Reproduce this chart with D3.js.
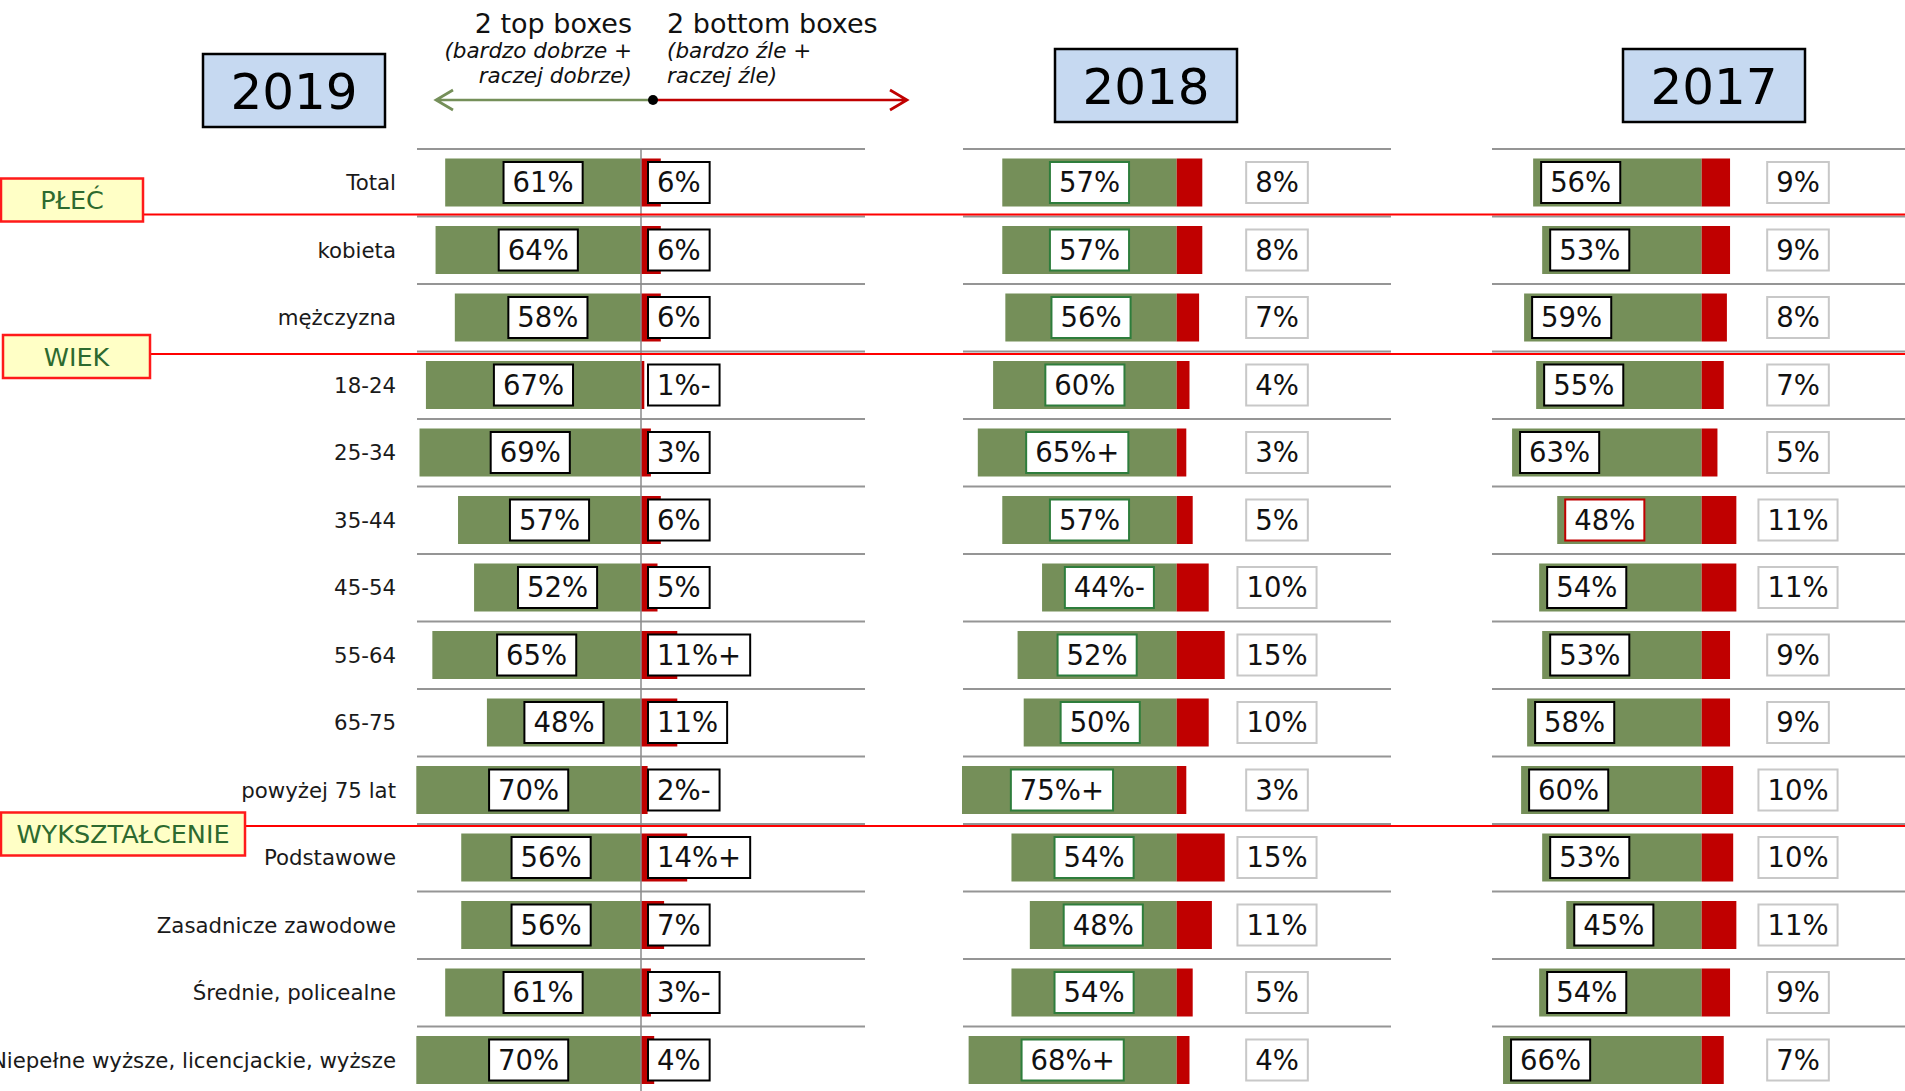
<!DOCTYPE html>
<html lang="pl"><head>
<meta charset="utf-8">
<script src="https://cdn.jsdelivr.net/npm/d3@7"></script>
<style>
  body { margin: 0; background: #fff; }
  svg { display: block; font-family: "DejaVu Sans", Verdana, sans-serif; }
</style>
</head>
<body>
<svg id="chart" width="1905" height="1091"></svg>
<script>
// --- data ---
const rows = ["Total", "kobieta", "mężczyzna", "18-24", "25-34", "35-44", "45-54", "55-64",
  "65-75", "powyżej 75 lat", "Podstawowe", "Zasadnicze zawodowe", "Średnie, policealne",
  "Niepełne wyższe, licencjackie, wyższe"]

const years = ["2019", "2018", "2017"]

const top2019 = [61, 64, 58, 67, 69, 57, 52, 65, 48, 70, 56, 56, 61, 70]
const topMark2019 = ["", "", "", "", "", "", "", "", "", "", "", "", "", ""]
const bottom2019 = [6, 6, 6, 1, 3, 6, 5, 11, 11, 2, 14, 7, 3, 4]
const bottomMark2019 = ["", "", "", "-", "", "", "", "+", "", "-", "+", "", "-", ""]

const top2018 = [57, 57, 56, 60, 65, 57, 44, 52, 50, 75, 54, 48, 54, 68]
const topMark2018 = ["", "", "", "", "+", "", "-", "", "", "+", "", "", "", "+"]
const bottom2018 = [8, 8, 7, 4, 3, 5, 10, 15, 10, 3, 15, 11, 5, 4]
const bottomMark2018 = ["", "", "", "", "", "", "", "", "", "", "", "", "", ""]

const top2017 = [56, 53, 59, 55, 63, 48, 54, 53, 58, 60, 53, 45, 54, 66]
const topMark2017 = ["", "", "", "", "", "", "", "", "", "", "", "", "", ""]
const bottom2017 = [9, 9, 8, 7, 5, 11, 11, 9, 9, 10, 10, 11, 9, 7]
const bottomMark2017 = ["", "", "", "", "", "", "", "", "", "", "", "", "", ""]
const flagged2017 = ["35-44"]

const groups = ["PŁEĆ", "WIEK", "WYKSZTAŁCENIE"]
const groupAfter = ["Total", "mężczyzna", "powyżej 75 lat"]

// --- layout ---
const green = "#758f59", red = "#c00000"
const svg = d3.select("#chart")

const y = d3.scaleBand().domain(rows).range([149, 149 + rows.length * 67.5])
const barH = 48, barOff = 9.5

const panels = [
  {year: years[0], top: top2019, topMark: topMark2019, bot: bottom2019, botMark: bottomMark2019,
   axis: 641, kTop: 3.21, kBot: 3.3, left: 417, right: 865, head: [203, 54],
   topBorder: "#000", botBorder: "#000", topPos: "center", botPos: "axis", axisLine: true},
  {year: years[1], top: top2018, topMark: topMark2018, bot: bottom2018, botMark: bottomMark2018,
   axis: 1176.7, kTop: 3.06, kBot: 3.2, left: 963, right: 1391, head: [1055, 49],
   topBorder: "#2e7d3c", botBorder: "#c8c8c8", topPos: "center", botPos: 1277},
  {year: years[2], top: top2017, topMark: topMark2017, bot: bottom2017, botMark: bottomMark2017,
   axis: 1701.7, kTop: 3.01, kBot: 3.15, left: 1492, right: 1905, head: [1623, 49],
   topBorder: "#000", botBorder: "#c8c8c8", topPos: "start", botPos: 1798, flagged: flagged2017}
]

function labelBox(parent, txt, x, cy, pos, stroke) {
  const b = parent.append("g")
  const t = b.append("text").text(txt)
    .attr("font-size", 27.5).attr("fill", "#111")
    .attr("y", cy).attr("dy", "0.36em")
  const w = t.node().getComputedTextLength() + 18
  const left = pos == "middle" ? x - w / 2 : x
  t.attr("x", left + 9)
  b.insert("rect", "text")
    .attr("x", left).attr("y", cy - 20.5)
    .attr("width", w).attr("height", 41)
    .attr("fill", "#fff").attr("stroke", stroke).attr("stroke-width", 2)
}

function drawPanel(p, k) {
  const g = svg.append("g")
  const xTop = d3.scaleLinear().domain([0, 100]).range([p.axis, p.axis - 100 * p.kTop])
  const xBot = d3.scaleLinear().domain([0, 100]).range([p.axis, p.axis + 100 * p.kBot])

  g.selectAll("line.sep").data(rows).join("line")
    .attr("class", "sep")
    .attr("x1", p.left).attr("x2", p.right)
    .attr("y1", d => y(d)).attr("y2", d => y(d))
    .attr("stroke", "#959595").attr("stroke-width", 2)

  // header
  g.append("rect")
    .attr("x", p.head[0]).attr("y", p.head[1]).attr("width", 182).attr("height", 73)
    .attr("fill", "#c6d9f1").attr("stroke", "#000").attr("stroke-width", 2.5)
  g.append("text").text(p.year)
    .attr("x", p.head[0] + 91).attr("y", p.head[1] + 36.5).attr("dy", "0.36em")
    .attr("text-anchor", "middle").attr("font-size", 50).attr("fill", "#000")

  svg.append("clipPath").attr("id", "clip" + k)
    .append("rect").attr("x", p.left - 1).attr("y", 0).attr("width", 1905).attr("height", 1091)

  const bars = g.append("g").attr("clip-path", `url(#clip${k})`)
  bars.selectAll("rect.top").data(rows).join("rect")
    .attr("class", "top")
    .attr("x", (d, i) => xTop(p.top[i]))
    .attr("width", (d, i) => p.axis - xTop(p.top[i]))
    .attr("y", d => y(d) + barOff).attr("height", barH)
    .attr("fill", green)
  bars.selectAll("rect.bot").data(rows).join("rect")
    .attr("class", "bot")
    .attr("x", p.axis)
    .attr("width", (d, i) => xBot(p.bot[i]) - p.axis)
    .attr("y", d => y(d) + barOff).attr("height", barH)
    .attr("fill", red)

  if (p.axisLine) {
    g.append("line")
      .attr("x1", p.axis).attr("x2", p.axis).attr("y1", 149).attr("y2", 1091)
      .attr("stroke", "#8a8a8a").attr("stroke-width", 1.5)
  }

  rows.forEach((r, i) => {
    const cy = y(r) + barOff + barH / 2
    const x0 = xTop(p.top[i])
    const flag = p.flagged && p.flagged.indexOf(r) != -1
    if (p.topPos == "center") {
      labelBox(g, p.top[i] + "%" + p.topMark[i], (x0 + p.axis) / 2, cy, "middle", p.topBorder)
    } else {
      labelBox(g, p.top[i] + "%" + p.topMark[i], x0 + 8, cy, "start", flag ? red : p.topBorder)
    }
    const bt = p.bot[i] + "%" + p.botMark[i]
    if (p.botPos == "axis") {
      labelBox(g, bt, p.axis + 7, cy, "start", p.botBorder)
    } else {
      labelBox(g, bt, p.botPos, cy, "middle", p.botBorder)
    }
  })
}

panels.forEach((p, k) => drawPanel(p, k))

// row labels
svg.append("g").selectAll("text").data(rows).join("text")
  .text(d => d)
  .attr("x", 396).attr("y", d => y(d) + barOff + barH / 2).attr("dy", "0.36em")
  .attr("text-anchor", "end").attr("font-size", 21.3).attr("fill", "#1a1a1a")

// group markers
const groupBox = [
  {w: 144, dy: -38, x: 0, lineDy: -2},
  {w: 149, dy: -16.5, x: 2, lineDy: 2.5},
  {w: 246, dy: -11.5, x: 0, lineDy: 2}
]
groups.forEach((name, i) => {
  const yb = y(groupAfter[i]) + y.step()
  const b = groupBox[i]
  svg.append("line")
    .attr("x1", b.x + b.w).attr("x2", 1905).attr("y1", yb + b.lineDy).attr("y2", yb + b.lineDy)
    .attr("stroke", "#ff0000").attr("stroke-width", 2)
  svg.append("rect")
    .attr("x", b.x + 1).attr("y", yb + b.dy).attr("width", b.w - 2).attr("height", 43)
    .attr("fill", "#ffffc6").attr("stroke", "#ff1a1a").attr("stroke-width", 2.5)
  svg.append("text").text(name)
    .attr("x", b.x + b.w / 2).attr("y", yb + b.dy + 21.5).attr("dy", "0.36em")
    .attr("text-anchor", "middle").attr("font-size", 25.5).attr("fill", "#2d6a2f")
})

// legend at the top
const leg = svg.append("g")
leg.append("text").text("2 top boxes").attr("x", 632).attr("y", 33)
  .attr("text-anchor", "end").attr("font-size", 27)
leg.append("text").text("(bardzo dobrze +").attr("x", 632).attr("y", 58)
  .attr("text-anchor", "end").attr("font-size", 21.5).attr("font-style", "italic")
leg.append("text").text("raczej dobrze)").attr("x", 632).attr("y", 83)
  .attr("text-anchor", "end").attr("font-size", 21.5).attr("font-style", "italic")
leg.append("text").text("2 bottom boxes").attr("x", 667).attr("y", 33)
  .attr("font-size", 27)
leg.append("text").text("(bardzo źle +").attr("x", 667).attr("y", 58)
  .attr("font-size", 21.5).attr("font-style", "italic")
leg.append("text").text("raczej źle)").attr("x", 667).attr("y", 83)
  .attr("font-size", 21.5).attr("font-style", "italic")
leg.selectAll("text").attr("fill", "#111")

leg.append("path").attr("d", "M653,100H436M453,90L436,100L453,110")
  .attr("fill", "none").attr("stroke", green).attr("stroke-width", 2.7)
leg.append("path").attr("d", "M653,100H907M890,90L907,100L890,110")
  .attr("fill", "none").attr("stroke", red).attr("stroke-width", 2.7)
leg.append("circle").attr("cx", 653).attr("cy", 100).attr("r", 5).attr("fill", "#000")
</script>
</body>
</html>
